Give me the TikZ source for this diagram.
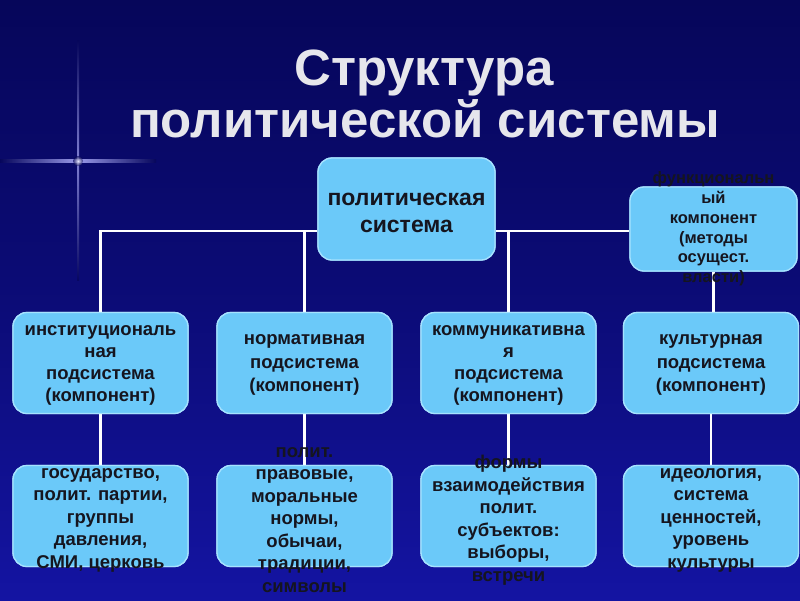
\documentclass[tikz,border=0pt]{standalone}
\usepackage{fontspec}
\setmainfont{Liberation Sans}
\definecolor{bgtop}{HTML}{06065A}
\definecolor{bgbot}{HTML}{1414A2}
\definecolor{boxfill}{HTML}{6BC9F9}
\definecolor{boxedge}{HTML}{A6E2FF}
\definecolor{txtc}{HTML}{15151F}
\definecolor{titlec}{HTML}{E6E6EC}
\begin{document}
\begin{tikzpicture}[x=1pt,y=-1pt,
  box/.style={draw=boxedge, line width=1.3pt, fill=boxfill, rounded corners=14pt,
    inner sep=0pt, minimum width=175pt, minimum height=101pt},
  txt/.style={font=\bfseries\fontsize{18.5}{22.5}\selectfont, text=txtc, align=center, inner sep=0pt},
  txtmid/.style={txt, font=\bfseries\fontsize{18.5}{23.5}\selectfont},
  txttop/.style={txt, font=\bfseries\fontsize{23}{27.5}\selectfont},
  txtfunc/.style={txt, font=\bfseries\fontsize{16.5}{19.8}\selectfont},
  conn/.style={draw=white, line width=2.6pt},
  ttl/.style={font=\bfseries\fontsize{51}{52}\selectfont, text=titlec, inner sep=0pt, anchor=base}]
\useasboundingbox (0,0) rectangle (800,600);
\shade[top color=bgtop, bottom color=bgbot, middle color=bgtop!60!bgbot] (0,0) rectangle (800,600);
% lens flare
\shade[left color=bgtop, right color=bgtop, middle color=white!70!blue, opacity=0.85] (0,159.9) rectangle (156,162.1);
\shade[top color=bgtop, bottom color=bgtop, middle color=white!70!blue, opacity=0.7] (77,40) rectangle (79,280);
\shade[inner color=white, outer color=bgtop, opacity=0.7] (78,161) circle (5);
% title
\node[ttl] (t1) at (424,85) {Структура};
\node[ttl] (t2) at (425,137) {политической системы};
% boxes (placed first, to be named)
\node[box, minimum width=177pt, minimum height=102pt] (top) at (406.5,209) {};
\node[box, minimum width=167pt, minimum height=84pt] (func) at (713.5,229) {};
\node[box] (inst) at (100.5,363) {};
\node[box] (norm) at (304.5,363) {};
\node[box] (comm) at (508.5,363) {};
\node[box] (cult) at (711,363) {};
\node[box] (instb) at (100.5,516) {};
\node[box] (normb) at (304.5,516) {};
\node[box] (commb) at (508.5,516) {};
\node[box] (cultb) at (711,516) {};
\coordinate (hl) at (100,231);
% connectors
\draw[conn] (top.west |- hl) -| (inst.north);
\draw[conn] (norm.north |- hl) -- (norm.north);
\draw[conn] (comm.north |- hl) -- (comm.north);
\draw[conn] (top.east |- hl) -- (func.west |- hl);
\draw[conn] (func.south) -- (func.south |- cult.north);
\draw[conn] (inst.south) -- (instb.north);
\draw[conn] (norm.south) -- (normb.north);
\draw[conn] (comm.south) -- (commb.north);
\draw[conn] (cult.south) -- (cultb.north);
% redraw boxes on top of connectors
\node[box, minimum width=177pt, minimum height=102pt] (topr) at (top) {};
\node[box, minimum width=167pt, minimum height=84pt] (funcr) at (func) {};
\foreach \n in {inst,norm,comm,cult,instb,normb,commb,cultb}{\node[box] (\n r) at (\n) {};}
% texts
\node[txttop] (topt) at (406.5,213) {политическая\\система};
\node[txtfunc] (funct) at (713.5,229) {функциональн\\ый\\компонент\\(методы\\осущест.\\власти)};
\node[txt, font=\bfseries\fontsize{18.5}{22}\selectfont] (instt) at (100.5,365) {институциональ\\ная\\подсистема\\(компонент)};
\node[txtmid] (normt) at (304.5,365) {нормативная\\подсистема\\(компонент)};
\node[txt, font=\bfseries\fontsize{18.5}{22}\selectfont] (commt) at (508.5,365) {коммуникативна\\я\\подсистема\\(компонент)};
\node[txtmid] (cultt) at (711,365) {культурная\\подсистема\\(компонент)};
\node[txt] (instbt) at (100.5,520) {государство,\\полит. партии,\\группы\\давления,\\СМИ, церковь};
\node[txt] (normbt) at (304.5,520) {полит.\\правовые,\\моральные\\нормы,\\обычаи,\\традиции,\\символы};
\node[txt] (commbt) at (508.5,520) {формы\\взаимодействия\\полит.\\субъектов:\\выборы,\\встречи};
\node[txt] (cultbt) at (711,520) {идеология,\\система\\ценностей,\\уровень\\культуры};
\end{tikzpicture}
\end{document}
